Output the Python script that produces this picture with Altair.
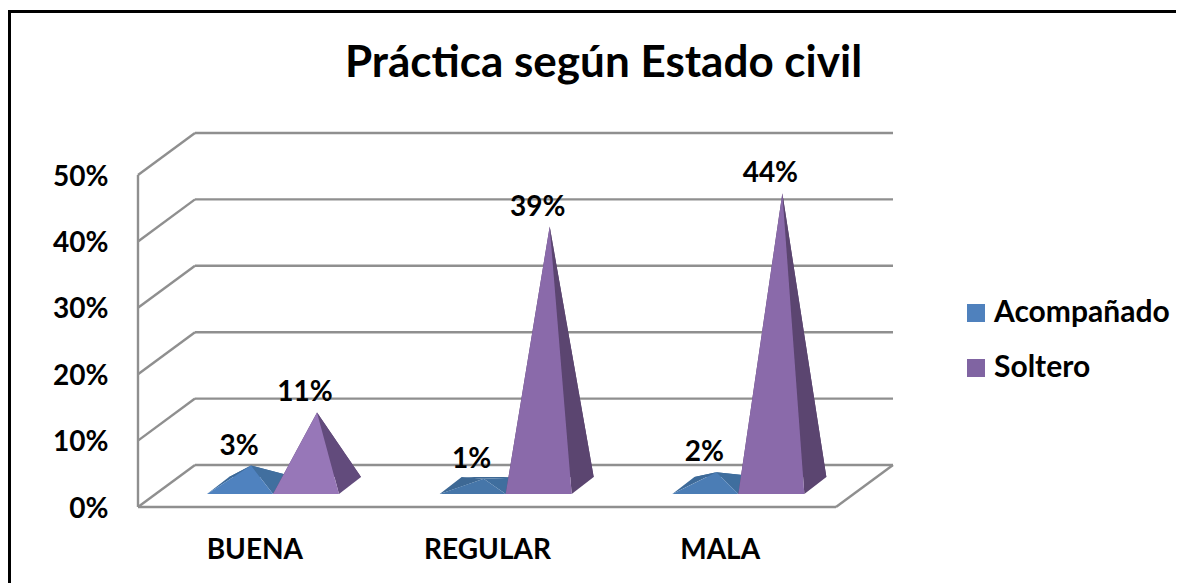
import altair as alt
import pandas as pd

TITLE = "Práctica según Estado civil"
categories = ["BUENA", "REGULAR", "MALA"]
series_names = ["Acompañado", "Soltero"]
acompanado = [3, 1, 2]
soltero = [11, 39, 44]
y_ticks = [0, 10, 20, 30, 40, 50]

FONT = "Lato"
TXT = "#000000"
GRID = "#8f8f8f"

# chart geometry in data units (x: one unit = one category; y: percent)
WALL_DX, WALL_DY = 0.245, 6.33
X_MAX, Y_MAX = 3 + WALL_DX, 50 + WALL_DY
BASE_W = 0.2837
BASE_DX, BASE_DY = 0.0946, 2.56
BASE_Y = 1.96
OFFSET = {"Acompañado": 0.2966, "Soltero": 0.5803}

shades = {
    "Acompañado": [
        {"front": "#4f82bf", "side": "#416f9f", "left": "#3d6a99", "back": "#3d6a99"},
        {"front": "#4676a9", "side": "#3f6e9e", "left": "#3d6894", "back": "#3d6894"},
        {"front": "#4b7db5", "side": "#3f6e9e", "left": "#3d6a99", "back": "#3d6a99"},
    ],
    "Soltero": [
        {"front": "#9777b8", "side": "#624b7c", "left": "#5b4570", "back": "#5b4570"},
        {"front": "#8a6aaa", "side": "#5b4570", "left": "#5b4570", "back": "#5b4570"},
        {"front": "#8a6aaa", "side": "#5b4570", "left": "#5b4570", "back": "#5b4570"},
    ],
}


def triangle(face, key, pts):
    a, b, c = sorted(pts)
    rows = []
    mid = a[1] + (c[1] - a[1]) * (b[0] - a[0]) / (c[0] - a[0])
    for x, y, y2 in [(a[0], a[1], a[1]), (b[0], b[1], mid), (c[0], c[1], c[1])]:
        rows.append({"face": face, "key": key, "x": x, "y": y, "y2": y2})
    return rows


faces, labels = [], []
fid = 0
for name, values in zip(series_names, [acompanado, soltero]):
    for i, v in enumerate(values):
        fl = (i + OFFSET[name], BASE_Y)
        fr = (fl[0] + BASE_W, BASE_Y)
        br = (fr[0] + BASE_DX, BASE_Y + BASE_DY)
        bl = (fl[0] + BASE_DX, BASE_Y + BASE_DY)
        apex = (fl[0] + (BASE_W + BASE_DX) / 2, BASE_Y + BASE_DY / 2 + v)
        s = shades[name][i]
        for part, pts in [("back", (bl, br, apex)), ("left", (fl, bl, apex)),
                          ("side", (fr, br, apex)), ("front", (fl, fr, apex))]:
            faces += triangle(fid, s[part], pts)
            fid += 1
        labels.append({"x": apex[0], "y": apex[1], "t": f"{v}%"})

rules = []
for v in y_ticks:
    rules.append({"x": WALL_DX, "x2": X_MAX, "y": v + WALL_DY, "y2": v + WALL_DY})
    rules.append({"x": 0, "x2": WALL_DX, "y": v, "y2": v + WALL_DY})
rules.append({"x": 0, "x2": 0, "y": 0, "y2": 50})
rules.append({"x": 0, "x2": 3, "y": 0, "y2": 0})
rules.append({"x": 3, "x2": X_MAX, "y": 0, "y2": WALL_DY})

x_scale = alt.Scale(domain=[0, X_MAX], nice=False, zero=False)
y_scale = alt.Scale(domain=[0, Y_MAX], nice=False, zero=False)
x_axis = alt.Axis(
    title=None, values=[0.5, 1.5, 2.5],
    labelExpr="['" + "','".join(categories) + "'][floor(datum.value)]",
    labelFont=FONT, labelFontWeight="bold", labelFontSize=28, labelColor=TXT,
    labelPadding=29, ticks=False, domain=False, grid=False, labelAngle=0,
)
y_axis = alt.Axis(
    title=None, values=y_ticks, labelExpr="datum.value + '%'",
    labelFont=FONT, labelFontWeight="bold", labelFontSize=28, labelColor=TXT,
    labelPadding=30, labelOffset=2, ticks=False, domain=False, grid=False,
)
X = alt.X("x:Q", scale=x_scale, axis=x_axis)
Y = alt.Y("y:Q", scale=y_scale, axis=y_axis)

grid = alt.Chart(pd.DataFrame(rules)).mark_rule(color=GRID, strokeWidth=2.4).encode(
    x=X, x2="x2:Q", y=Y, y2="y2:Q"
)

keys = series_names + sorted({r["key"] for r in faces})
colors = ["#4f81bd", "#8064a2"] + sorted({r["key"] for r in faces})
areas = alt.Chart(pd.DataFrame(faces)).mark_area(interpolate="linear").encode(
    x=X, y=Y, y2="y2:Q", detail="face:N",
    color=alt.Color(
        "key:N",
        scale=alt.Scale(domain=keys, range=colors),
        legend=alt.Legend(
            title=None, values=series_names, orient="none", legendX=823, legendY=165,
            symbolType="square", symbolSize=324, symbolStrokeWidth=0, symbolOpacity=1,
            labelFont=FONT, labelFontWeight="bold", labelFontSize=30, labelColor=TXT,
            labelOffset=3, rowPadding=25, labelLimit=300,
        ),
    ),
)
texts = alt.Chart(pd.DataFrame(labels)).mark_text(
    font=FONT, fontWeight="bold", fontSize=28, color=TXT, dx=-12, dy=-19, baseline="middle"
).encode(x=X, y=Y, text="t:N")

frame_left = alt.Chart(pd.DataFrame({"a": [0]})).mark_rule(color="#000000", strokeWidth=3).encode(
    x=alt.value(-128.5), y=alt.value(-122), y2=alt.value(460)
)
frame_top = alt.Chart(pd.DataFrame({"a": [0]})).mark_rule(color="#000000", strokeWidth=3).encode(
    x=alt.value(-130), x2=alt.value(1046), y=alt.value(-121.5)
)

chart = (
    alt.layer(grid, areas, texts, frame_left, frame_top)
    .properties(
        width=755, height=374,
        title=alt.TitleParams(
            TITLE, font=FONT, fontWeight="bold", fontSize=44, color=TXT,
            anchor="middle", dx=88, offset=0, dy=76,
        ),
        autosize=alt.AutoSizeParams(type="none"),
        padding={"left": 130, "top": 125, "right": 283, "bottom": 76},
        background="#ffffff",
    )
    .configure_view(stroke=None)
)
chart.save("out.html", embed_options={"renderer": "svg", "actions": False})
